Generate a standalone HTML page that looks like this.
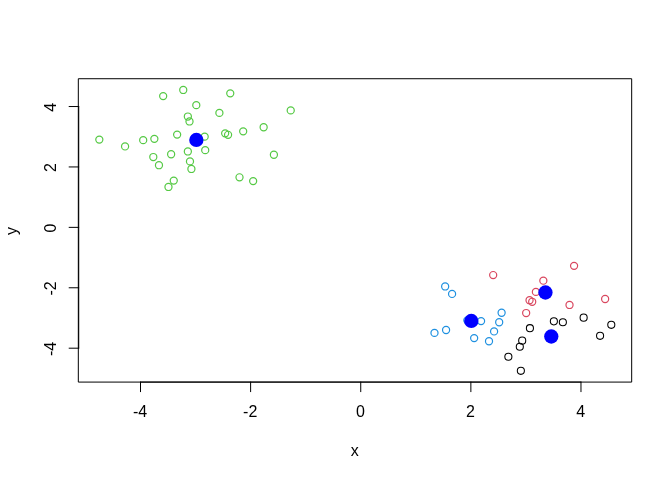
<!DOCTYPE html><html><head><meta charset="utf-8"><style>html,body{margin:0;padding:0;background:#fff;width:672px;height:480px;overflow:hidden}svg{display:block;will-change:transform}text{font-family:"Liberation Sans",sans-serif;font-size:16px;fill:#000}</style></head><body>
<svg width="672" height="480" viewBox="0 0 672 480">
<rect x="0" y="0" width="672" height="480" fill="#fff"/>
<path d="M140.50 382.08V391.68M250.62 382.08V391.68M360.74 382.08V391.68M470.86 382.08V391.68M580.98 382.08V391.68M78.72 348.19H69.12M78.72 287.77H69.12M78.72 227.36H69.12M78.72 166.95H69.12M78.72 106.54H69.12M140.50 382.08H580.98M78.72 348.19V106.54" stroke="#000" stroke-width="1" fill="none" stroke-linecap="round" stroke-linejoin="round"/>
<rect x="78.72" y="78.72" width="552.96" height="303.36" stroke="#000" stroke-width="1" fill="none" stroke-linecap="round" stroke-linejoin="round"/>
<text x="140.10" y="416.64" text-anchor="middle">-4</text>
<text x="250.22" y="416.64" text-anchor="middle">-2</text>
<text x="360.34" y="416.64" text-anchor="middle">0</text>
<text x="470.46" y="416.64" text-anchor="middle">2</text>
<text x="580.58" y="416.64" text-anchor="middle">4</text>
<text transform="translate(55.68 348.89) rotate(-90)" text-anchor="middle">-4</text>
<text transform="translate(55.68 288.47) rotate(-90)" text-anchor="middle">-2</text>
<text transform="translate(55.68 228.06) rotate(-90)" text-anchor="middle">0</text>
<text transform="translate(55.68 167.65) rotate(-90)" text-anchor="middle">2</text>
<text transform="translate(55.68 107.24) rotate(-90)" text-anchor="middle">4</text>
<text x="354.80" y="455.84" text-anchor="middle">x</text>
<text transform="translate(17.28 231.00) rotate(-90)" text-anchor="middle">y</text>
<circle cx="99.32" cy="139.58" r="3.55" stroke="#55C944" stroke-width="1.2" fill="none"/>
<circle cx="125.07" cy="146.43" r="3.55" stroke="#55C944" stroke-width="1.2" fill="none"/>
<circle cx="143.19" cy="140.15" r="3.55" stroke="#55C944" stroke-width="1.2" fill="none"/>
<circle cx="154.36" cy="138.84" r="3.55" stroke="#55C944" stroke-width="1.2" fill="none"/>
<circle cx="153.30" cy="157.05" r="3.55" stroke="#55C944" stroke-width="1.2" fill="none"/>
<circle cx="158.97" cy="165.20" r="3.55" stroke="#55C944" stroke-width="1.2" fill="none"/>
<circle cx="171.13" cy="154.27" r="3.55" stroke="#55C944" stroke-width="1.2" fill="none"/>
<circle cx="187.85" cy="151.47" r="3.55" stroke="#55C944" stroke-width="1.2" fill="none"/>
<circle cx="205.22" cy="150.14" r="3.55" stroke="#55C944" stroke-width="1.2" fill="none"/>
<circle cx="189.98" cy="161.41" r="3.55" stroke="#55C944" stroke-width="1.2" fill="none"/>
<circle cx="191.40" cy="168.95" r="3.55" stroke="#55C944" stroke-width="1.2" fill="none"/>
<circle cx="173.75" cy="180.61" r="3.55" stroke="#55C944" stroke-width="1.2" fill="none"/>
<circle cx="168.47" cy="186.96" r="3.55" stroke="#55C944" stroke-width="1.2" fill="none"/>
<circle cx="163.17" cy="96.12" r="3.55" stroke="#55C944" stroke-width="1.2" fill="none"/>
<circle cx="183.25" cy="89.97" r="3.55" stroke="#55C944" stroke-width="1.2" fill="none"/>
<circle cx="230.26" cy="93.35" r="3.55" stroke="#55C944" stroke-width="1.2" fill="none"/>
<circle cx="196.29" cy="105.14" r="3.55" stroke="#55C944" stroke-width="1.2" fill="none"/>
<circle cx="219.40" cy="112.88" r="3.55" stroke="#55C944" stroke-width="1.2" fill="none"/>
<circle cx="187.85" cy="116.54" r="3.55" stroke="#55C944" stroke-width="1.2" fill="none"/>
<circle cx="189.50" cy="121.47" r="3.55" stroke="#55C944" stroke-width="1.2" fill="none"/>
<circle cx="177.14" cy="134.61" r="3.55" stroke="#55C944" stroke-width="1.2" fill="none"/>
<circle cx="204.66" cy="136.67" r="3.55" stroke="#55C944" stroke-width="1.2" fill="none"/>
<circle cx="225.16" cy="133.36" r="3.55" stroke="#55C944" stroke-width="1.2" fill="none"/>
<circle cx="228.07" cy="134.82" r="3.55" stroke="#55C944" stroke-width="1.2" fill="none"/>
<circle cx="243.18" cy="131.33" r="3.55" stroke="#55C944" stroke-width="1.2" fill="none"/>
<circle cx="290.72" cy="110.38" r="3.55" stroke="#55C944" stroke-width="1.2" fill="none"/>
<circle cx="263.64" cy="127.25" r="3.55" stroke="#55C944" stroke-width="1.2" fill="none"/>
<circle cx="273.90" cy="154.76" r="3.55" stroke="#55C944" stroke-width="1.2" fill="none"/>
<circle cx="239.51" cy="177.31" r="3.55" stroke="#55C944" stroke-width="1.2" fill="none"/>
<circle cx="253.15" cy="181.11" r="3.55" stroke="#55C944" stroke-width="1.2" fill="none"/>
<circle cx="445.16" cy="286.45" r="3.55" stroke="#1E90E0" stroke-width="1.2" fill="none"/>
<circle cx="452.08" cy="293.93" r="3.55" stroke="#1E90E0" stroke-width="1.2" fill="none"/>
<circle cx="493.18" cy="275.06" r="3.55" stroke="#D9475F" stroke-width="1.2" fill="none"/>
<circle cx="543.34" cy="280.69" r="3.55" stroke="#D9475F" stroke-width="1.2" fill="none"/>
<circle cx="574.08" cy="265.84" r="3.55" stroke="#D9475F" stroke-width="1.2" fill="none"/>
<circle cx="535.89" cy="291.92" r="3.55" stroke="#D9475F" stroke-width="1.2" fill="none"/>
<circle cx="529.54" cy="300.21" r="3.55" stroke="#D9475F" stroke-width="1.2" fill="none"/>
<circle cx="532.20" cy="301.80" r="3.55" stroke="#D9475F" stroke-width="1.2" fill="none"/>
<circle cx="526.16" cy="313.05" r="3.55" stroke="#D9475F" stroke-width="1.2" fill="none"/>
<circle cx="529.92" cy="328.15" r="3.55" stroke="#000000" stroke-width="1.05" fill="none"/>
<circle cx="553.87" cy="321.37" r="3.55" stroke="#000000" stroke-width="1.05" fill="none"/>
<circle cx="562.86" cy="322.27" r="3.55" stroke="#000000" stroke-width="1.05" fill="none"/>
<circle cx="569.52" cy="304.96" r="3.55" stroke="#D9475F" stroke-width="1.2" fill="none"/>
<circle cx="583.64" cy="317.64" r="3.55" stroke="#000000" stroke-width="1.05" fill="none"/>
<circle cx="605.13" cy="299.01" r="3.55" stroke="#D9475F" stroke-width="1.2" fill="none"/>
<circle cx="611.29" cy="324.80" r="3.55" stroke="#000000" stroke-width="1.05" fill="none"/>
<circle cx="600.08" cy="335.81" r="3.55" stroke="#000000" stroke-width="1.05" fill="none"/>
<circle cx="434.49" cy="332.90" r="3.55" stroke="#1E90E0" stroke-width="1.2" fill="none"/>
<circle cx="446.07" cy="330.01" r="3.55" stroke="#1E90E0" stroke-width="1.2" fill="none"/>
<circle cx="467.32" cy="320.32" r="3.55" stroke="#1E90E0" stroke-width="1.2" fill="none"/>
<circle cx="481.07" cy="321.10" r="3.55" stroke="#1E90E0" stroke-width="1.2" fill="none"/>
<circle cx="501.61" cy="312.74" r="3.55" stroke="#1E90E0" stroke-width="1.2" fill="none"/>
<circle cx="499.19" cy="322.27" r="3.55" stroke="#1E90E0" stroke-width="1.2" fill="none"/>
<circle cx="494.09" cy="331.44" r="3.55" stroke="#1E90E0" stroke-width="1.2" fill="none"/>
<circle cx="474.15" cy="338.11" r="3.55" stroke="#1E90E0" stroke-width="1.2" fill="none"/>
<circle cx="489.01" cy="341.23" r="3.55" stroke="#1E90E0" stroke-width="1.2" fill="none"/>
<circle cx="522.20" cy="340.64" r="3.55" stroke="#000000" stroke-width="1.05" fill="none"/>
<circle cx="519.81" cy="346.77" r="3.55" stroke="#000000" stroke-width="1.05" fill="none"/>
<circle cx="508.37" cy="356.71" r="3.55" stroke="#000000" stroke-width="1.05" fill="none"/>
<circle cx="520.86" cy="370.84" r="3.55" stroke="#000000" stroke-width="1.05" fill="none"/>
<circle cx="196.36" cy="139.94" r="7.15" fill="#0000FF"/>
<circle cx="471.30" cy="320.96" r="7.15" fill="#0000FF"/>
<circle cx="545.45" cy="292.51" r="7.15" fill="#0000FF"/>
<circle cx="551.29" cy="336.50" r="7.15" fill="#0000FF"/>
</svg></body></html>
